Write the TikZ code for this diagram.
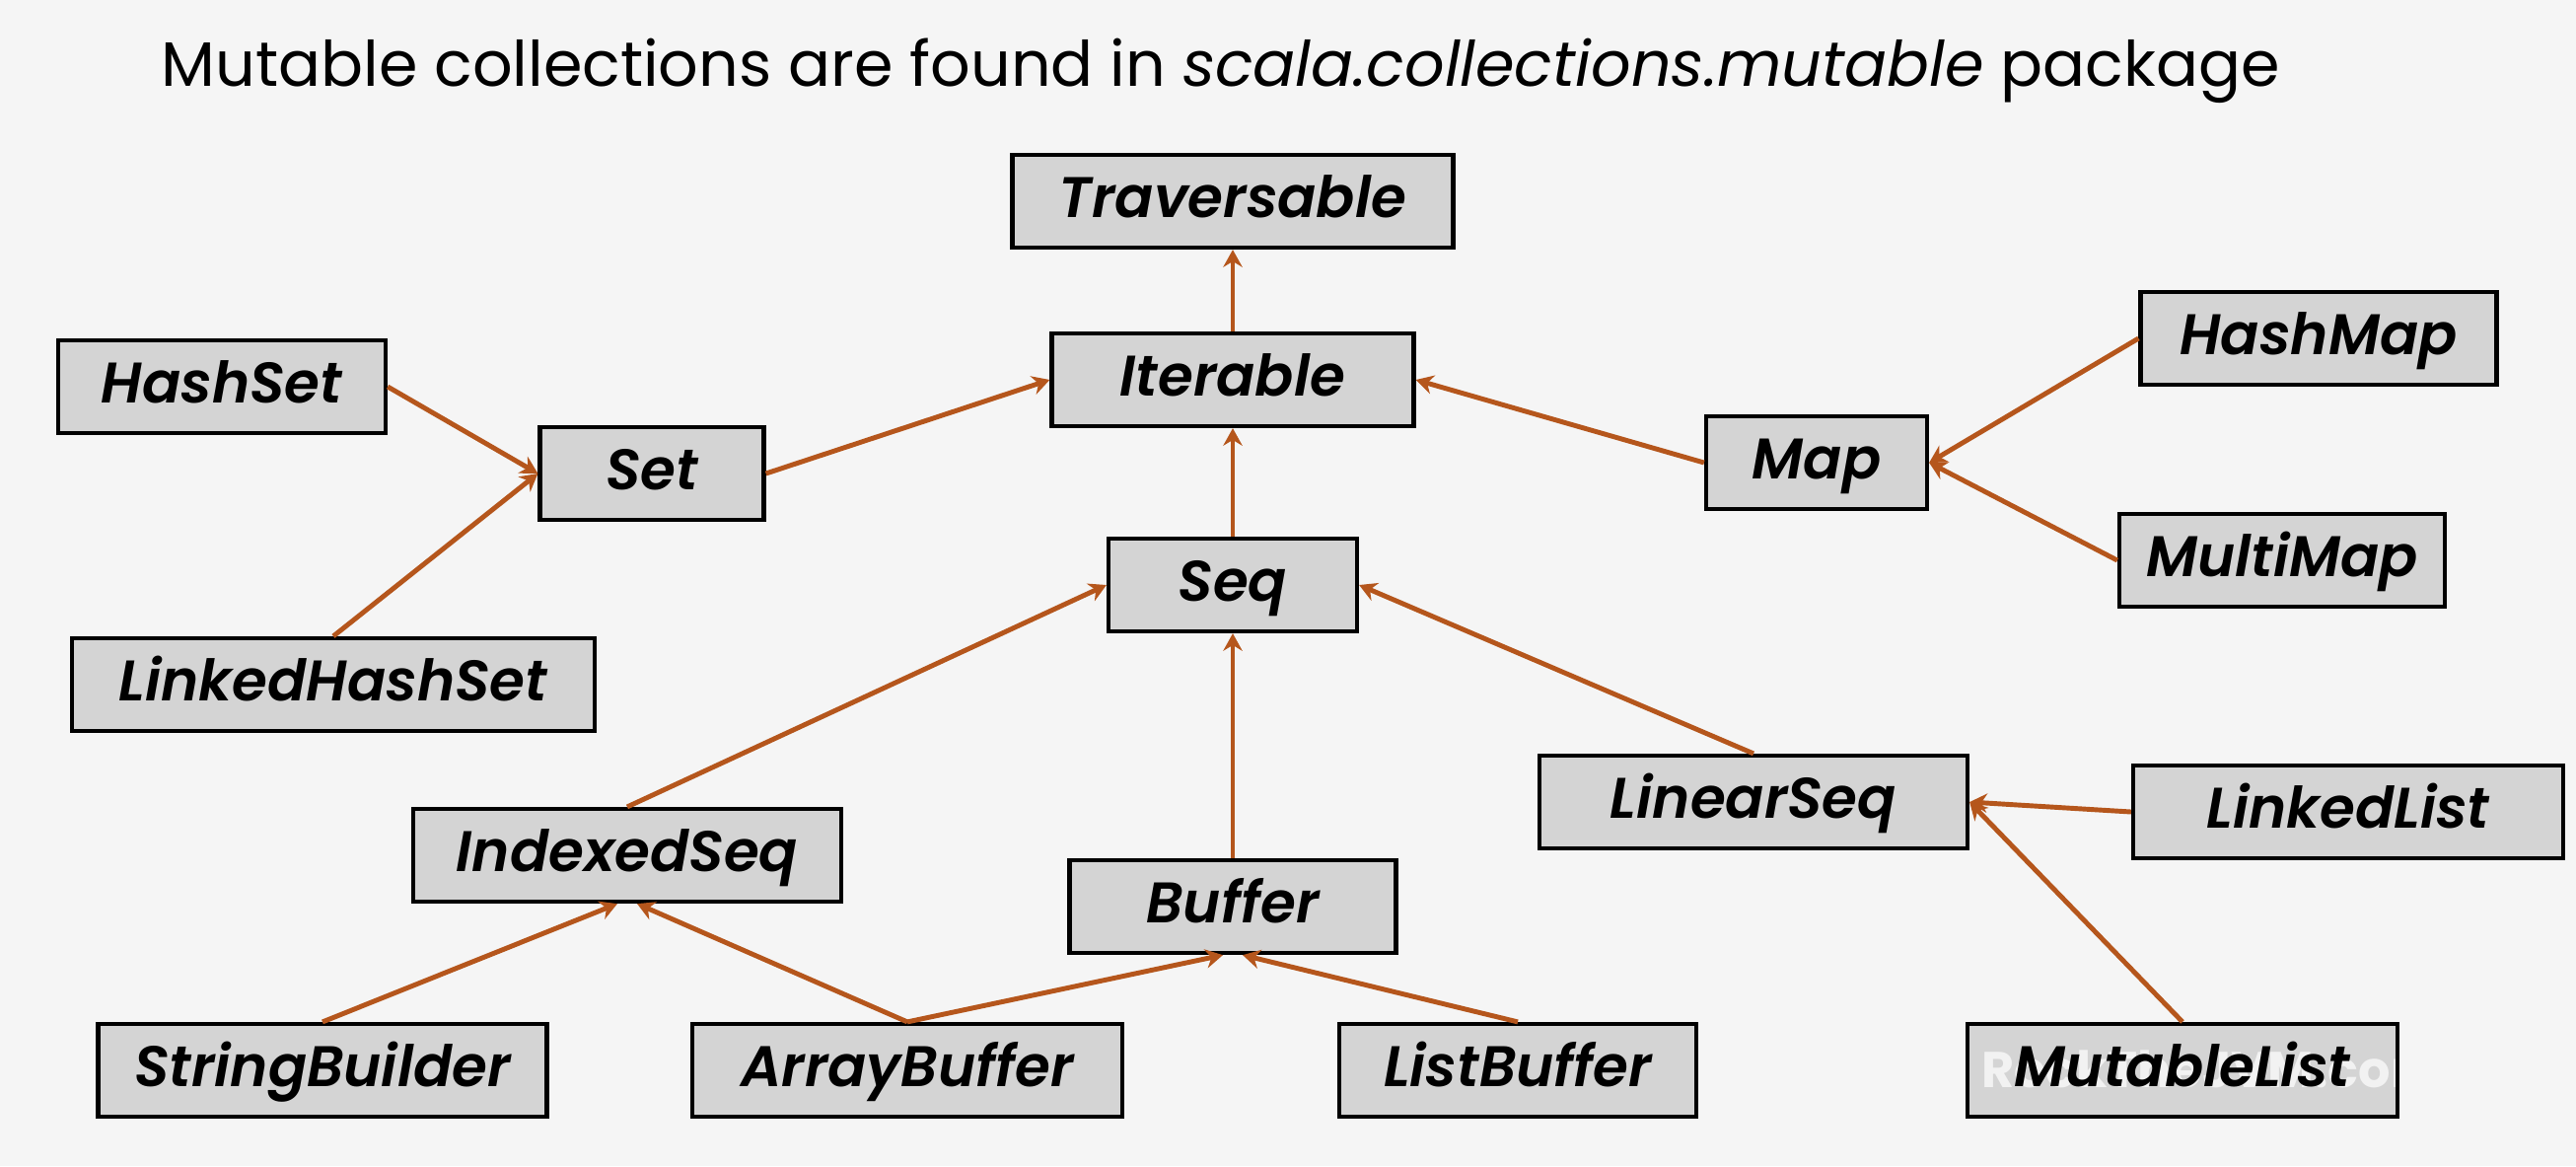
\documentclass[tikz,border=0pt]{standalone}
\usepackage{fontspec}
\setmainfont{Poppins}
\newfontfamily\boxfont{Poppins}[UprightFont=*-SemiBoldItalic]
\usepackage{tikz}
\usetikzlibrary{arrows.meta}
\usepackage{xcolor}
\definecolor{slidebg}{HTML}{F5F5F5}
\definecolor{boxgray}{HTML}{D4D4D4}
\definecolor{linkrust}{HTML}{B5561C}

\begin{document}
\begin{tikzpicture}[
  cls/.style={draw=black,line width=1.2pt,fill=boxgray,minimum height=0.94cm,inner sep=0pt,text height=0.45cm,text depth=0.13cm,font=\fontsize{16.5}{18}\boxfont},
  inh/.style={-{Stealth[length=5pt,width=5.5pt]},draw=linkrust,line width=1.4pt}
]
  \fill[slidebg] (0,0) rectangle (26.12,-11.82);
  \useasboundingbox (0,0) rectangle (26.12,-11.82);

  \node[anchor=base west,inner sep=0pt,font=\fontsize{18.1}{21}\selectfont] (title) at (1.63,-0.87)
    {Mutable collections are found in \textit{scala.collections.mutable} package};

  % top of the hierarchy
  \node[cls,minimum width=4.47cm] (trav) at (12.50,-2.04) {Traversable};
  \node[cls,minimum width=3.67cm] (iter) at (12.50,-3.85) {Iterable};
  \node[cls,minimum width=2.52cm] (seq) at (12.50,-5.93) {Seq};

  % sets
  \node[cls,minimum width=2.27cm] (set) at (6.61,-4.80) {Set};
  \node[cls,minimum width=3.32cm] (hashset) at (2.25,-3.92) {HashSet};
  \node[cls,minimum width=5.30cm] (lhset) at (3.38,-6.94) {LinkedHashSet};

  % maps
  \node[cls,minimum width=2.24cm] (map) at (18.42,-4.69) {Map};
  \node[cls,minimum width=3.61cm] (hashmap) at (23.51,-3.43) {HashMap};
  \node[cls,minimum width=3.30cm] (multimap) at (23.14,-5.68) {MultiMap};

  % sequences
  \node[cls,minimum width=4.34cm] (idxseq) at (6.36,-8.67) {IndexedSeq};
  \node[cls,minimum width=3.31cm] (buffer) at (12.50,-9.19) {Buffer};
  \node[cls,minimum width=4.34cm] (linseq) at (17.78,-8.13) {LinearSeq};
  \node[cls,minimum width=4.36cm] (linkedlist) at (23.81,-8.23) {LinkedList};
  \node[cls,minimum width=4.55cm] (strbuilder) at (3.27,-10.85) {StringBuilder};
  \node[cls,minimum width=4.36cm] (arrbuffer) at (9.20,-10.85) {ArrayBuffer};
  \node[cls,minimum width=3.62cm] (listbuffer) at (15.39,-10.85) {ListBuffer};
  % watermark sits between the box fill and its label
  \node[cls,minimum width=4.36cm,path picture={
      \node[anchor=base west,inner sep=0pt,text=white,opacity=0.7,font=\fontsize{14.5}{16}\selectfont\bfseries]
        at ([xshift=-2.06cm,yshift=-0.17cm]path picture bounding box.center) {RockTheJVM.com};
    }] (mutlist) at (22.13,-10.85) {MutableList};

  \draw[inh] (iter) -- (trav);
  \draw[inh] (set.east) -- (iter.west);
  \draw[inh] (map.west) -- (iter.east);
  \draw[inh] (seq) -- (iter);
  \draw[inh] (hashset.east) -- (set.west);
  \draw[inh] (lhset.north) -- (set.west);
  \draw[inh] (hashmap.west) -- (map.east);
  \draw[inh] (multimap.west) -- (map.east);
  \draw[inh] (idxseq.north) -- (seq.west);
  \draw[inh] (buffer) -- (seq);
  \draw[inh] (linseq.north) -- (seq.east);
  \draw[inh] (linkedlist.west) -- (linseq.east);
  \draw[inh] (mutlist.north) -- (linseq.east);
  \draw[inh] (strbuilder.north) -- ([xshift=-0.1cm]idxseq.south);
  \draw[inh] (arrbuffer.north) -- ([xshift=0.1cm]idxseq.south);
  \draw[inh] (arrbuffer.north) -- ([xshift=-0.1cm]buffer.south);
  \draw[inh] (listbuffer.north) -- ([xshift=0.1cm]buffer.south);
\end{tikzpicture}
\end{document}
